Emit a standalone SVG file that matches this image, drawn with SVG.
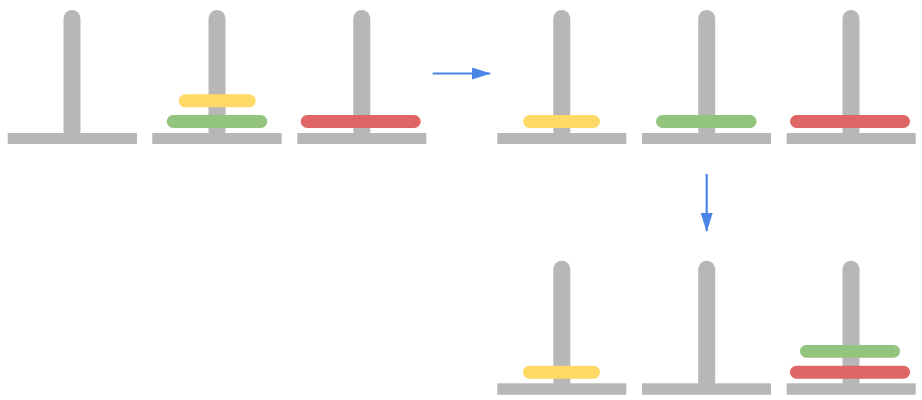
<svg xmlns="http://www.w3.org/2000/svg" width="922" height="400" viewBox="0 0 922 400">
<defs>
<style>
.pole{fill:#b7b7b7}
.base{fill:#b7b7b7}
.y{fill:#ffd966}
.g{fill:#93c47d}
.r{fill:#e06666}
.conn{stroke:#4a86e8;stroke-width:2.2;fill:none}
</style>
<marker id="ah" viewBox="0 0 19 12" refX="18" refY="6" markerWidth="19" markerHeight="12" markerUnits="userSpaceOnUse" orient="auto">
<path d="M0,0 L19,6 L0,12 z" fill="#4a86e8"/>
</marker>
</defs>
<rect width="922" height="400" fill="#ffffff"/>
<!-- Initial state -->
<g id="peg-a1">
<rect class="pole" x="63.5" y="10" width="17" height="130" rx="8.5"/>
<rect class="base" x="7.7" y="133" width="129.3" height="11"/>
</g>
<g id="peg-b1">
<rect class="pole" x="208.5" y="10" width="17" height="130" rx="8.5"/>
<rect class="base" x="152.3" y="133" width="129.3" height="11"/>
<rect class="g" x="166.7" y="115" width="100.6" height="13" rx="6.5"/>
<rect class="y" x="178.7" y="94.3" width="77" height="13" rx="6.5"/>
</g>
<g id="peg-c1">
<rect class="pole" x="353.3" y="10" width="17" height="130" rx="8.5"/>
<rect class="base" x="297.3" y="133" width="129" height="11"/>
<rect class="r" x="300.7" y="115" width="120" height="13" rx="6.5"/>
</g>
<!-- Second state -->
<g id="peg-a2">
<rect class="pole" x="553.3" y="10" width="17" height="130" rx="8.5"/>
<rect class="base" x="497.3" y="133" width="129" height="11"/>
<rect class="y" x="523" y="115" width="77" height="13" rx="6.5"/>
</g>
<g id="peg-b2">
<rect class="pole" x="698.2" y="10" width="17" height="130" rx="8.5"/>
<rect class="base" x="642" y="133" width="129" height="11"/>
<rect class="g" x="656" y="115" width="100.6" height="13" rx="6.5"/>
</g>
<g id="peg-c2">
<rect class="pole" x="842.5" y="10" width="17" height="130" rx="8.5"/>
<rect class="base" x="786.7" y="133" width="129" height="11"/>
<rect class="r" x="790" y="115" width="120" height="13" rx="6.5"/>
</g>
<!-- Third state -->
<g id="peg-a3">
<rect class="pole" x="553.3" y="260.7" width="17" height="130" rx="8.5"/>
<rect class="base" x="497.3" y="383.3" width="129" height="11.5"/>
<rect class="y" x="523" y="365.7" width="77" height="13" rx="6.5"/>
</g>
<g id="peg-b3">
<rect class="pole" x="698.2" y="260.7" width="17" height="130" rx="8.5"/>
<rect class="base" x="642" y="383.3" width="129" height="11.5"/>
</g>
<g id="peg-c3">
<rect class="pole" x="842.5" y="260.7" width="17" height="130" rx="8.5"/>
<rect class="base" x="786.7" y="383.3" width="129" height="11.5"/>
<rect class="r" x="790" y="365.7" width="120" height="13" rx="6.5"/>
<rect class="g" x="800" y="345" width="100" height="12.7" rx="6.3"/>
</g>
<g id="connectors">
<line class="conn" x1="432.7" y1="73.5" x2="490" y2="73.5" marker-end="url(#ah)"/>
<line class="conn" x1="706.7" y1="174" x2="706.7" y2="231" marker-end="url(#ah)"/>
</g>
</svg>
